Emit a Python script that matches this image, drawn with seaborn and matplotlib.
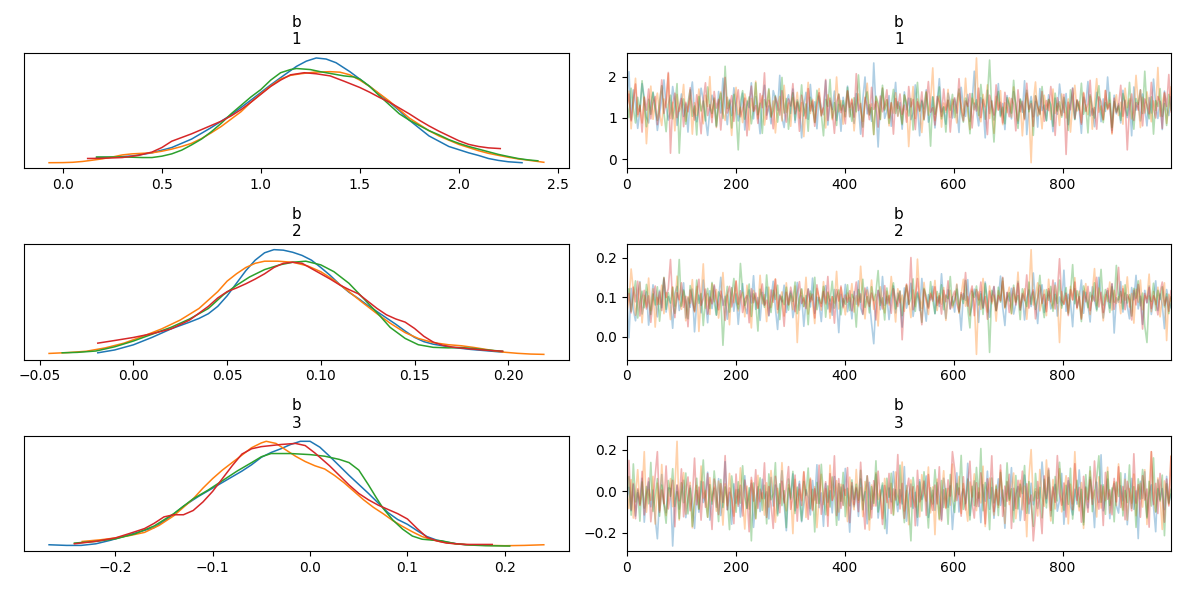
import numpy as np
import pandas as pd
import matplotlib
matplotlib.use("Agg")
import matplotlib.pyplot as plt
import seaborn as sns

# ---------------- data ----------------
var_name = "b"
coords = ["1", "2", "3"]
chains = [0, 1, 2, 3]
chain_colors = ["#1f77b4", "#ff7f0e", "#2ca02c", "#d62728"]

# KDE curves read from the left column (x = value, y = density, arbitrary units)
kde_b1_x = [
    [0.17, 0.25, 0.35, 0.45, 0.55, 0.65, 0.75, 0.85, 0.95, 1.05, 1.12, 1.18, 1.23, 1.28, 1.33, 1.38, 1.45, 1.5, 1.55, 1.6, 1.65, 1.7, 1.75, 1.8, 1.85, 1.9, 1.95, 2.0, 2.05, 2.1, 2.15, 2.2, 2.25, 2.32],
    [-0.07, 0.0, 0.05, 0.1, 0.15, 0.2, 0.25, 0.3, 0.35, 0.4, 0.45, 0.5, 0.55, 0.6, 0.65, 0.7, 0.75, 0.8, 0.85, 0.9, 0.95, 1.0, 1.05, 1.1, 1.15, 1.2, 1.27, 1.35, 1.4, 1.45, 1.5, 1.55, 1.6, 1.65, 1.7, 1.75, 1.8, 1.85, 1.9, 1.95, 2.0, 2.05, 2.1, 2.15, 2.2, 2.25, 2.3, 2.35, 2.43],
    [0.17, 0.25, 0.3, 0.35, 0.4, 0.45, 0.5, 0.55, 0.6, 0.65, 0.7, 0.75, 0.8, 0.85, 0.9, 0.95, 1.0, 1.05, 1.1, 1.15, 1.18, 1.25, 1.3, 1.36, 1.42, 1.47, 1.5, 1.55, 1.6, 1.65, 1.7, 1.75, 1.8, 1.85, 1.9, 1.95, 2.0, 2.05, 2.1, 2.15, 2.2, 2.25, 2.3, 2.35, 2.4],
    [0.125, 0.2, 0.3, 0.38, 0.45, 0.5, 0.55, 0.6, 0.65, 0.7, 0.75, 0.8, 0.85, 0.9, 0.95, 1.0, 1.05, 1.1, 1.15, 1.22, 1.28, 1.35, 1.42, 1.5, 1.55, 1.6, 1.65, 1.7, 1.75, 1.8, 1.85, 1.9, 1.95, 2.0, 2.05, 2.1, 2.15, 2.21],
]
kde_b1_y = [
    [0.055, 0.058, 0.07, 0.10, 0.15, 0.23, 0.34, 0.46, 0.60, 0.745, 0.84, 0.92, 0.97, 1.0, 0.99, 0.955, 0.87, 0.80, 0.73, 0.655, 0.58, 0.50, 0.41, 0.335, 0.26, 0.21, 0.16, 0.13, 0.10, 0.075, 0.046, 0.028, 0.015, 0.006],
    [0.006, 0.007, 0.01, 0.018, 0.03, 0.043, 0.06, 0.08, 0.09, 0.095, 0.10, 0.115, 0.135, 0.16, 0.19, 0.235, 0.29, 0.35, 0.42, 0.49, 0.58, 0.66, 0.735, 0.80, 0.835, 0.85, 0.865, 0.87, 0.865, 0.84, 0.79, 0.73, 0.66, 0.59, 0.51, 0.43, 0.37, 0.31, 0.26, 0.22, 0.18, 0.15, 0.12, 0.095, 0.076, 0.058, 0.042, 0.03, 0.01],
    [0.06, 0.06, 0.06, 0.058, 0.055, 0.055, 0.068, 0.09, 0.125, 0.175, 0.23, 0.30, 0.38, 0.47, 0.55, 0.63, 0.70, 0.79, 0.86, 0.89, 0.90, 0.89, 0.87, 0.85, 0.83, 0.82, 0.80, 0.73, 0.64, 0.555, 0.47, 0.41, 0.36, 0.31, 0.27, 0.225, 0.19, 0.16, 0.135, 0.11, 0.085, 0.065, 0.046, 0.033, 0.024],
    [0.046, 0.048, 0.055, 0.075, 0.107, 0.15, 0.21, 0.245, 0.28, 0.32, 0.36, 0.40, 0.45, 0.51, 0.58, 0.655, 0.73, 0.79, 0.84, 0.86, 0.85, 0.83, 0.78, 0.72, 0.675, 0.625, 0.58, 0.525, 0.47, 0.41, 0.355, 0.305, 0.26, 0.215, 0.18, 0.16, 0.147, 0.14],
]
kde_b2_x = [
    [-0.019, -0.01, 0.0, 0.01, 0.02, 0.03, 0.035, 0.04, 0.045, 0.05, 0.055, 0.06, 0.065, 0.07, 0.075, 0.08, 0.085, 0.09, 0.095, 0.1, 0.105, 0.11, 0.115, 0.12, 0.125, 0.13, 0.135, 0.14, 0.145, 0.15, 0.155, 0.16, 0.17, 0.18, 0.19, 0.197],
    [-0.045, -0.035, -0.025, -0.015, -0.005, 0.005, 0.015, 0.025, 0.035, 0.045, 0.05, 0.055, 0.06, 0.065, 0.07, 0.077, 0.085, 0.093, 0.1, 0.107, 0.115, 0.122, 0.13, 0.137, 0.145, 0.152, 0.16, 0.168, 0.175, 0.182, 0.19, 0.197, 0.205, 0.212, 0.219],
    [-0.038, -0.03, -0.02, -0.01, 0.0, 0.01, 0.02, 0.03, 0.04, 0.048, 0.055, 0.062, 0.07, 0.078, 0.085, 0.092, 0.1, 0.107, 0.115, 0.122, 0.13, 0.137, 0.145, 0.152, 0.16, 0.168, 0.175, 0.182, 0.19, 0.197],
    [-0.019, -0.01, 0.0, 0.01, 0.02, 0.03, 0.04, 0.045, 0.05, 0.055, 0.06, 0.065, 0.07, 0.075, 0.08, 0.085, 0.09, 0.095, 0.1, 0.105, 0.11, 0.115, 0.12, 0.125, 0.13, 0.135, 0.14, 0.145, 0.15, 0.155, 0.16, 0.165, 0.17, 0.18, 0.19, 0.197],
]
kde_b2_y = [
    [0.018, 0.045, 0.094, 0.165, 0.245, 0.31, 0.345, 0.39, 0.46, 0.56, 0.68, 0.80, 0.90, 0.97, 1.0, 0.995, 0.975, 0.945, 0.90, 0.83, 0.755, 0.67, 0.595, 0.535, 0.47, 0.41, 0.35, 0.29, 0.225, 0.165, 0.124, 0.10, 0.07, 0.05, 0.035, 0.024],
    [0.012, 0.02, 0.033, 0.065, 0.11, 0.175, 0.245, 0.33, 0.44, 0.60, 0.70, 0.77, 0.83, 0.87, 0.89, 0.89, 0.88, 0.845, 0.79, 0.71, 0.60, 0.50, 0.39, 0.30, 0.21, 0.155, 0.115, 0.095, 0.085, 0.068, 0.045, 0.025, 0.013, 0.006, 0.003],
    [0.018, 0.022, 0.035, 0.075, 0.13, 0.195, 0.26, 0.34, 0.44, 0.57, 0.66, 0.74, 0.81, 0.855, 0.88, 0.89, 0.855, 0.79, 0.68, 0.55, 0.40, 0.26, 0.155, 0.095, 0.07, 0.065, 0.068, 0.058, 0.043, 0.033],
    [0.11, 0.135, 0.164, 0.20, 0.245, 0.33, 0.46, 0.54, 0.60, 0.635, 0.675, 0.72, 0.77, 0.83, 0.87, 0.88, 0.87, 0.82, 0.77, 0.72, 0.665, 0.62, 0.58, 0.51, 0.44, 0.38, 0.34, 0.31, 0.25, 0.175, 0.12, 0.09, 0.073, 0.055, 0.04, 0.033],
]
kde_b3_x = [
    [-0.268, -0.25, -0.235, -0.22, -0.205, -0.19, -0.175, -0.16, -0.145, -0.13, -0.115, -0.1, -0.085, -0.07, -0.06, -0.05, -0.04, -0.03, -0.02, -0.01, 0.0, 0.01, 0.02, 0.03, 0.04, 0.05, 0.06, 0.07, 0.08, 0.09, 0.1, 0.11, 0.12, 0.13, 0.14, 0.15, 0.16, 0.187],
    [-0.234, -0.215, -0.2, -0.185, -0.17, -0.155, -0.14, -0.13, -0.12, -0.11, -0.1, -0.09, -0.08, -0.07, -0.06, -0.05, -0.045, -0.035, -0.025, -0.015, -0.005, 0.005, 0.015, 0.025, 0.035, 0.045, 0.055, 0.065, 0.075, 0.085, 0.095, 0.105, 0.115, 0.125, 0.135, 0.15, 0.17, 0.2, 0.22, 0.24],
    [-0.242, -0.22, -0.2, -0.18, -0.16, -0.14, -0.12, -0.105, -0.09, -0.075, -0.06, -0.05, -0.04, -0.02, 0.0, 0.015, 0.03, 0.04, 0.05, 0.06, 0.068, 0.075, 0.085, 0.095, 0.105, 0.115, 0.125, 0.135, 0.15, 0.165, 0.18, 0.205],
    [-0.242, -0.22, -0.2, -0.185, -0.17, -0.16, -0.15, -0.14, -0.13, -0.12, -0.11, -0.1, -0.09, -0.08, -0.07, -0.06, -0.05, -0.04, -0.03, -0.015, -0.005, 0.005, 0.02, 0.03, 0.04, 0.05, 0.06, 0.07, 0.08, 0.09, 0.1, 0.11, 0.12, 0.13, 0.14, 0.16, 0.187],
]
kde_b3_y = [
    [0.018, 0.012, 0.012, 0.027, 0.06, 0.10, 0.14, 0.18, 0.27, 0.38, 0.47, 0.55, 0.63, 0.71, 0.77, 0.84, 0.885, 0.92, 0.96, 0.99, 0.99, 0.935, 0.85, 0.76, 0.67, 0.585, 0.50, 0.41, 0.32, 0.255, 0.21, 0.15, 0.095, 0.062, 0.043, 0.028, 0.018, 0.018],
    [0.049, 0.065, 0.082, 0.105, 0.134, 0.20, 0.29, 0.37, 0.45, 0.55, 0.64, 0.72, 0.79, 0.86, 0.93, 0.975, 0.99, 0.97, 0.91, 0.85, 0.80, 0.76, 0.73, 0.67, 0.60, 0.52, 0.44, 0.37, 0.31, 0.245, 0.19, 0.14, 0.095, 0.065, 0.045, 0.025, 0.015, 0.009, 0.012, 0.018],
    [0.034, 0.05, 0.073, 0.12, 0.195, 0.31, 0.45, 0.53, 0.62, 0.71, 0.79, 0.845, 0.875, 0.875, 0.865, 0.85, 0.82, 0.79, 0.72, 0.58, 0.46, 0.36, 0.25, 0.165, 0.10, 0.07, 0.062, 0.055, 0.027, 0.015, 0.009, 0.006],
    [0.027, 0.05, 0.082, 0.125, 0.17, 0.22, 0.28, 0.30, 0.30, 0.34, 0.42, 0.52, 0.64, 0.76, 0.87, 0.92, 0.94, 0.95, 0.96, 0.97, 0.95, 0.88, 0.76, 0.67, 0.58, 0.50, 0.44, 0.39, 0.35, 0.31, 0.26, 0.17, 0.088, 0.055, 0.034, 0.021, 0.021],
]

# Trace values read (coarsely, ~250 per chain) from the right column.
# b1 in hundredths, b2 and b3 in thousandths.
trace_units = [100.0, 1000.0, 1000.0]

b1_chain0 = [140, 212, 96, 168, 131, 75, 118, 183, 150, 102, 88, 137, 161, 124, 70, 109, 147, 192, 128, 95, 115, 176, 139, 82, 121,
             158, 104, 134, 66, 149, 187, 113, 91, 126, 172, 143, 99, 58, 120, 155, 136, 79, 164, 112, 196, 127, 84, 145, 106, 173,
             132, 93, 118, 160, 71, 141, 125, 185, 98, 152, 114, 62, 138, 179, 107, 129, 86, 166, 148, 119, 203, 101, 77, 135, 156,
             111, 170, 89, 144, 123, 52, 130, 162, 97, 181, 117, 139, 74, 153, 126, 108, 190, 83, 142, 121, 165, 94, 133, 68, 150,
             116, 177, 103, 136, 87, 159, 128, 61, 145, 199, 110, 132, 92, 233, 124, 30, 140, 171, 99, 118, 154, 80, 127, 186, 105,
             137, 73, 163, 120, 148, 96, 112, 180, 131, 57, 143, 122, 168, 90, 109, 151, 76, 134, 195, 115, 126, 85, 160, 139, 100,
             146, 119, 65, 174, 128, 104, 157, 92, 138, 213, 117, 81, 149, 130, 52, 167, 111, 142, 95, 125, 183, 106, 135, 72, 154,
             121, 98, 164, 133, 87, 145, 114, 190, 60, 127, 152, 103, 140, 78, 171, 118, 131, 94, 156, 124, 67, 148, 109, 182, 136,
             113, 159, 84, 128, 173, 97, 141, 120, 63, 150, 132, 188, 105, 123, 79, 162, 138, 91, 146, 116, 199, 129, 70, 155, 110,
             134, 88, 167, 125, 101, 143, 57, 175, 119, 137, 93, 158, 126, 81, 149, 112, 194, 130, 99, 140, 72, 165, 122, 106, 151]
b1_chain1 = [118, 165, 74, 140, 196, 103, 129, 88, 152, 38, 121, 177, 97, 134, 160, 110, 82, 146, 125, 207, 99, 138, 69, 157, 116,
             131, 181, 92, 124, 148, 61, 137, 106, 170, 119, 86, 155, 128, 200, 101, 143, 77, 133, 163, 112, 94, 150, 123, 58, 139,
             174, 108, 126, 89, 158, 135, 71, 147, 117, 189, 98, 130, 154, 83, 121, 168, 104, 141, 64, 127, 152, 93, 179, 114, 136,
             80, 149, 122, 162, 100, 137, 55, 128, 186, 111, 145, 90, 133, 171, 107, 124, 76, 156, 138, 96, 120, 199, 115, 142, 85,
             130, 166, 103, 147, 69, 125, 158, 118, 92, 140, 184, 109, 134, 60, 151, 127, 97, 173, 121, 144, 81, 136, 112, 161, 104,
             128, 87, 155, 139, 31, 120, 176, 99, 146, 116, 65, 132, 164, 107, 142, 221, 94, 125, 153, 78, 136, 114, 169, 101, 145,
             123, 88, 160, 131, 106, 196, 118, 72, 148, 134, 245, 110, 91, 157, 127, 180, 99, 140, 63, 152, 120, 166, 84, 137, 113,
             149, 102, 175, 126, 93, 141, 57, 132, 160, 116, -8, 138, 187, 105, 128, 74, 155, 121, 144, 96, 170, 111, 135, 82, 158,
             124, 100, 146, 66, 133, 179, 117, 140, 89, 162, 127, 108, 152, 73, 136, 195, 114, 129, 95, 167, 120, 143, 61, 131, 156,
             106, 138, 85, 172, 125, 147, 98, 119, 203, 134, 77, 150, 112, 163, 128, 91, 141, 118, 222, 104, 135, 160, 87, 130, 175]
b1_chain2 = [135, 101, 172, 124, 88, 150, 116, 190, 130, 79, 145, 109, 163, 122, 94, 140, 178, 113, 67, 132, 155, 98, 127, 183, 15,
             120, 146, 85, 137, 168, 104, 129, 59, 152, 117, 141, 93, 175, 126, 111, 148, 81, 134, 160, 99, 225, 123, 142, 76, 157,
             114, 23, 139, 166, 97, 131, 151, 86, 120, 185, 108, 136, 63, 144, 127, 171, 102, 118, 154, 90, 133, 198, 112, 147, 73,
             129, 161, 95, 140, 117, 180, 105, 134, 68, 150, 123, 89, 167, 138, 110, 57, 145, 128, 193, 100, 137, 82, 158, 119, 142,
             103, 174, 126, 92, 149, 115, 204, 132, 78, 141, 163, 107, 125, 60, 153, 136, 96, 179, 118, 144, 87, 130, 169, 111, 139,
             121, 84, 156, 133, 105, 147, 71, 128, 186, 116, 140, 95, 162, 124, 32, 151, 109, 135, 175, 98, 127, 66, 143, 119, 157,
             101, 138, 170, 113, 90, 148, 127, 62, 159, 120, 144, 106, 181, 131, 97, 152, 240, 118, 42, 137, 164, 103, 126, 86, 149,
             134, 112, 191, 122, 75, 146, 130, 99, 167, 115, 141, 58, 154, 128, 108, 176, 121, 93, 145, 133, 80, 160, 117, 139, 102,
             150, 125, 70, 168, 136, 96, 143, 119, 184, 109, 131, 64, 156, 127, 100, 148, 178, 114, 89, 137, 124, 162, 77, 140, 115,
             129, 94, 159, 138, 106, 186, 120, 73, 147, 133, 168, 111, 213, 124, 98, 151, 61, 142, 128, 171, 104, 135, 82, 157, 119]
b1_chain3 = [127, 158, 93, 140, 182, 108, 131, 66, 149, 119, 170, 98, 136, 152, 84, 123, 192, 111, 144, 210, 15, 133, 160, 101, 126,
             147, 79, 138, 115, 173, 129, 95, 156, 120, 62, 142, 185, 106, 132, 89, 164, 124, 145, 71, 137, 198, 112, 128, 154, 92,
             135, 168, 103, 121, 148, 57, 139, 177, 116, 130, 87, 159, 125, 209, 97, 143, 118, 74, 151, 134, 107, 166, 122, 90, 146,
             129, 183, 110, 137, 68, 155, 124, 99, 171, 117, 141, 80, 133, 161, 105, 128, 193, 94, 148, 120, 63, 139, 157, 113, 131,
             86, 165, 126, 144, 102, 207, 118, 135, 55, 150, 129, 96, 174, 121, 140, 78, 153, 115, 132, 168, 100, 137, 61, 147, 123,
             158, 109, 131, 90, 176, 127, 145, 72, 139, 118, 163, 97, 134, 188, 114, 125, 83, 152, 138, 104, 170, 119, 143, 66, 130,
             149, 112, 195, 124, 93, 141, 128, 159, 76, 136, 117, 172, 101, 145, 122, 60, 155, 131, 107, 180, 119, 138, 88, 162, 126,
             103, 147, 133, 69, 168, 115, 140, 96, 184, 121, 135, 80, 153, 127, 110, 164, 92, 142, 118, 176, 131, 58, 149, 124, 106,
             157, 12, 138, 120, 171, 99, 144, 129, 85, 160, 116, 134, 191, 107, 125, 73, 151, 140, 97, 166, 122, 135, 64, 148, 113,
             130, 179, 104, 143, 23, 126, 158, 94, 137, 119, 168, 81, 146, 132, 110, 186, 123, 100, 152, 139, 75, 162, 128, 205, 115]

b2_chain0 = [95, -3, 122, 68, 40, 104, 139, 57, 86, 113, 29, 78, 131, 92, 50, 117, 73, 146, 62, 101, 84, 21, 110, 127, 66,
             89, 136, 47, 98, 74, 120, 12, 83, 105, 60, 143, 91, 35, 116, 71, 128, 55, 96, 150, 79, 102, 44, 87, 124, 64,
             108, 31, 93, 134, 76, 58, 118, 85, 154, 69, 99, 41, 112, 81, 125, 52, 97, 140, 72, 18, 106, 88, 130, 61, 94,
             115, 48, 80, 137, 67, 103, 26, 90, 121, 75, 148, 59, 100, 84, 38, 111, 129, 70, 95, 54, 119, 86, 10, 107, 77,
             132, 63, 98, 45, 114, 82, 141, 73, 56, 104, 125, 91, 34, -18, 88, 117, 68, 152, 79, 102, 43, 95, 128, 60, 110,
             85, 24, 123, 72, 97, 135, 51, 89, 113, 66, 147, 81, 39, 106, 93, 127, 58, 100, 76, 159, 87, 46, 118, 70, 101,
             62, 131, 84, 16, 109, 92, 144, 55, 78, 120, 99, 36, 114, 71, 138, 86, 49, 103, 126, 65, 96, 153, 74, 28, 111,
             90, 122, 57, 83, 140, 68, 105, 42, 97, 118, 76, 161, 88, 33, 109, 131, 61, 94, 115, 70, 85, 136, 52, 100, 79,
             168, 64, 107, 88, 25, 121, 74, 96, 143, 59, 112, 81, 37, 126, 92, 69, 150, 101, 47, 84, 116, 72, 133, 9, 98,
             87, 139, 62, 110, 77, 45, 124, 93, 155, 70, 102, 31, 117, 85, 128, 56, 95, 141, 66, 108, 80, 20, 119, 89, 73]
b2_chain1 = [63, 92, 171, 118, 54, 86, 137, 35, 104, 75, 148, 66, 121, 24, 99, 82, 130, 58, 111, 90, 43, 126, 77, 153, 95,
             69, 115, 40, 101, 84, 144, 62, 127, 13, 97, 184, 72, 108, 56, 134, 88, 119, 47, 93, 162, 79, 105, 30, 123, 86,
             141, 65, 98, 112, 50, 130, 87, 22, 117, 94, 71, 155, 83, 106, 38, 125, 74, 100, 146, 60, 91, 113, 52, 136, 80,
             103, 68, 128, -15, 96, 119, 76, 150, 57, 109, 88, 33, 122, 98, 67, 139, 81, 114, 46, 101, 85, 165, 70, 124, 94,
             55, 110, 89, 134, 62, 103, 76, 178, 99, 45, 118, 84, 143, 69, 107, 27, 126, 91, 60, 115, 80, 152, 97, 37, 121,
             86, 105, 64, 131, 93, 48, 118, 76, 196, 100, 71, 137, 87, 56, 112, 95, 142, 66, 109, 82, 124, 41, 98, 117, 73,
             90, 133, 59, 106, 145, 77, 101, 52, 120, 88, -45, 113, 69, 147, 94, 62, 128, 83, 105, 39, 116, 92, 140, 71, 99,
             125, 57, 108, 86, 163, 74, 97, 121, 44, 111, 220, 80, 102, 136, 65, 91, 118, 53, 145, 88, 72, 130, 96, -15, 114,
             82, 104, 61, 127, 93, 149, 70, 115, 47, 99, 134, 85, 56, 110, 172, 78, 123, 95, 40, 106, 89, 138, 67, 117, 84,
             101, 58, 128, 92, 151, 75, 109, 34, 120, 87, 143, 68, 104, 96, 158, 63, 114, 81, 125, 50, 98, 136, -10, 107, 90]
b2_chain2 = [98, 121, 64, 103, 141, 47, 88, 115, 73, 132, 92, 56, 108, 80, 126, 39, 97, 150, 69, 111, 85, 124, 59, 102, 195,
             77, 118, 90, 45, 129, 101, 66, 143, 84, 109, 28, 95, 122, 71, 137, 88, 54, 113, 100, -22, 83, 127, 62, 105, 147,
             91, 70, 185, 114, 79, 96, 133, 51, 108, 87, 14, 120, 99, 74, 156, 86, 61, 117, 94, 130, 43, 102, 81, 125, 67,
             110, 89, 138, 58, 97, 121, 76, 104, 30, 115, 93, 150, 68, 99, 84, 127, 49, 111, 90, 140, 72, 103, 118, 55, 96,
             82, 131, 66, 107, 95, 24, 119, 87, 145, 74, 101, 60, 126, 91, 112, 167, 79, 98, 42, 123, 85, 109, 136, 70, 94,
             116, 53, 100, 129, 81, 97, 146, 64, 110, 89, 36, 122, 103, 75, 139, 92, 58, 114, 85, 131, 68, 105, 96, 152, 78,
             93, 120, 62, 106, 84, 142, 71, 22, 115, 99, 128, 80, 108, 56, 134, 90, -40, 117, 101, 66, 125, 87, 148, 74, 97,
             111, 59, 130, 88, 104, 43, 121, 95, 76, 138, 82, 113, 69, 100, 155, 86, 48, 119, 92, 127, 64, 107, 84, 143, 72,
             98, 124, 57, 109, 182, 83, 116, 94, 38, 128, 101, 73, 112, 90, 136, 65, 105, 170, 80, 119, 99, 61, 126, 87, 180,
             93, 114, 70, 131, 85, 106, 52, 122, 97, 141, 78, 110, 27, -15, 103, 89, 135, 66, 117, 94, 126, 75, 108, 58, 100]
b2_chain3 = [77, 109, 60, 125, 88, 140, 52, 97, 117, 70, 103, 36, 94, 128, 81, 113, 66, 149, 99, 122, 195, 85, 48, 111, 93,
             136, 74, 102, 25, 118, 87, 64, 107, 145, 79, 96, 120, 57, 100, 83, 131, 94, 68, 115, 89, 41, 106, 127, 75, 99,
             140, 82, 116, 61, 95, 104, 35, 121, 86, 110, 72, 101, 133, 79, 92, 54, 118, 87, 145, 69, 103, 90, 26, 112, 81,
             125, 96, 63, 108, 139, 84, 98, 71, 120, 88, 107, 47, 131, 93, 76, 114, 85, 152, 62, 101, 34, 119, 90, 128, 73,
             105, 87, 116, 65, 99, 138, 80, 108, 57, 123, 94, 76, 110, 88, 42, 117, 96, 70, 129, 83, 104, 59, 121, 92, 76,
             114, -8, 97, 133, 82, 200, 68, 101, 147, 86, 30, 119, 94, 72, 108, 90, 126, 79, 103, 57, 117, 88, 141, 70, 99,
             115, 84, 63, 111, 94, 162, 77, 106, 128, 53, 119, 93, 138, 73, 101, 44, 115, 88, 127, 66, 104, 90, 150, 75, 112,
             61, 98, 124, 80, 135, 67, 109, 91, 156, 72, 102, 118, 45, 96, 130, 84, 107, 63, 121, 88, 143, 70, 113, 197, 92,
             82, 110, 53, 119, 93, 138, 73, 101, 44, 115, 88, 127, 66, 104, 90, 150, 75, 112, 61, 98, 122, 86, 134, 69, 107,
             175, 85, 121, 68, 106, 93, 42, 117, 80, 132, 97, 19, 109, 86, 124, 71, 103, 90, 55, 112, 138, 79, 100, 64, 116]

b3_chain0 = [-42, 18, -95, 31, -120, -8, -61, 62, -150, -25, 44, -76, 5, -131, -230, -33, 80, -58, -104, 15, 12, -265, -48, 27, -87,
             -14, 52, -128, -39, 26, -66, -180, 3, -102, 47, -55, -20, 91, -140, -31, 12, -78, 60, -118, -45, 142, -90, -6, -160, 35,
             -58, 8, -125, -27, 74, -83, -12, 38, -175, -50, 21, -99, 57, -36, -4, -134, 66, -72, 29, -110, -16, 98, -60, -191, 14,
             -40, 83, -95, -22, 47, -148, -65, 6, -30, -115, 51, -43, 127, -80, -9, -170, 36, -54, 2, -105, 70, -28, -140, 19, -68,
             109, -37, -198, 24, -76, 11, -122, 58, -46, -3, -158, 42, -88, -18, 81, -130, -35, 28, -69, -205, 15, -52, 94, -24, -99,
             7, -62, 118, -145, -20, 34, -83, -6, -167, 55, -41, -11, 73, -127, -58, 4, -93, 41, -31, -136, 62, -15, -78, 25, -185,
             -44, 88, -101, -23, 10, -60, 134, -118, -33, 49, -74, -7, -152, 31, -49, 96, -88, 17, -131, -26, 59, -69, 5, -179, 44,
             -38, 113, -92, -14, 22, -142, -55, 77, -21, -108, 38, -66, -3, -84, -29, 140, 14, -57, 66, -121, -3, 32, -97, -44, 85,
             -160, -18, 50, -72, -115, 9, -63, 102, -37, -150, 20, -81, 67, -12, -176, 43, -54, 175, -95, -28, 58, -133, -8, 36, -70,
             -106, 25, -47, 84, -162, -19, 61, -88, 1, -229, 47, -35, 93, -124, -10, 30, -73, -196, 54, -41, 12, -89, 71, -56, -15]
b3_chain1 = [12, -84, 55, -130, -21, 103, -66, -14, 190, -102, 8, -45, 71, -159, 38, -93, 128, -52, -118, -27, 60, -75, 16, 240, -140,
             -4, 89, -111, -36, 42, -177, -58, 27, -85, 121, -33, 3, -126, 65, -48, 19, -97, 48, -16, -164, 35, -71, 85, -29, -121,
             6, -63, 112, -40, -183, 24, -87, 52, -12, -135, 76, -51, -9, -116, 40, -77, 99, -22, -150, 13, -60, 137, -38, -95, 30,
             -14, -205, 57, -81, 9, -46, 94, -127, -2, 63, -89, 21, -176, -31, 81, -64, 11, -118, 125, -43, -19, 50, -101, 33, -70,
             8, -147, 67, -36, -90, 104, -55, 17, -123, 46, -16, -188, 29, -72, 88, -41, 5, -133, 61, -25, -83, 37, -112, 92, -18,
             -57, 140, -96, 2, -162, 54, -34, -77, 25, -124, 79, -9, -48, 116, -105, 20, -210, 58, -139, -23, 98, -84, 13, -68, 130,
             -49, -3, 71, -108, 36, -61, -145, 44, -28, 83, -94, 15, -57, 120, -171, -8, 62, -40, -116, 30, -79, 101, -22, -156, 47,
             -65, 6, 87, -133, -39, 52, -90, 24, -220, 68, 200, -47, 11, -120, 104, -30, -73, 150, -15, -144, 56, -86, 26, 108, -100,
             -11, 74, -158, 33, -62, 190, -27, -95, 41, -180, 15, -53, 97, -36, 4, -125, 69, -82, 22, -46, 115, -106, -8, 45, -70,
             131, -33, -92, 57, -140, 12, -58, 82, -119, -4, 38, -77, 103, -161, 20, 190, -44, -100, 63, -28, -185, 49, 0, -65, 170]
b3_chain2 = [-38, 70, -116, 131, -52, 5, -145, 44, -82, 22, -61, 138, -98, -17, 60, -121, 29, -67, -155, 51, -25, 108, -74, -3, -133,
             40, -56, 87, -110, 14, -170, -35, 62, -88, 9, 150, -47, -126, 31, -63, 97, -19, -147, 56, -79, 20, -39, -186, 73, -11,
             -102, 45, -58, 122, -28, -84, 16, -240, 39, -131, -6, 64, -93, 28, -158, 83, -42, -13, 137, -119, 35, -70, 2, -176, 58,
             -33, 95, -108, 19, -52, -143, 47, -21, 111, -85, 8, -197, 42, -60, 129, -31, -114, 25, -77, 68, -10, -165, 36, -49, 90,
             -123, 13, -71, 54, -40, 33, -44, 100, -90, -8, 73, -138, 21, -59, 146, -101, -24, 39, -181, 62, -30, 86, -117, 7, -67,
             125, -48, -152, 27, -83, -240, 66, -14, -126, 44, -96, 93, -37, -178, 16, -62, 103, -23, -134, 51, -79, 12, -160, 80, -41,
             -103, 37, -17, 172, -88, -52, 58, -139, 23, -70, 114, -34, 205, -95, 41, -5, -186, 63, -57, 24, -118, 90, -28, -73, 136,
             -45, 11, -149, 75, -86, 33, -12, 123, -107, 46, -60, -170, 85, -36, 18, -129, 57, -81, 101, -23, -156, 70, -47, 139, -9,
             -92, 28, -64, 110, -135, -18, 52, -76, 8, -163, 79, -41, 118, -99, -2, 65, 170, -54, 30, -112, 94, -69, 15, -148, 43,
             -26, 88, -120, 3, -55, 126, -83, 21, -175, 59, -38, 104, -15, -130, 47, -72, 160, -101, 12, -48, 77, -215, 35, -60, 8]
b3_chain3 = [-55, 148, -91, 37, -133, 12, -70, 95, -115, -20, 63, -148, -38, 78, 190, -102, 5, -61, 121, -86, -14, 52, -172, 30, -47,
             107, -124, -2, 68, -95, -33, 159, -66, 19, -140, 44, -78, 84, -28, -185, 58, -10, -113, 36, -55, 171, -90, 15, -41, -157,
             82, -73, 28, -120, 53, -22, -196, 66, -48, 103, -83, 9, -36, 136, -127, 22, -63, -180, 71, -14, -104, 48, -57, 16, 118,
             -88, -29, 77, -145, 34, -69, 92, -18, -136, 57, -94, 11, -59, 125, -112, -32, 45, -170, 84, -46, 170, -118, 60, -83, 30,
             -21, 113, -152, 41, -66, 18, -99, 139, -40, -183, 74, -10, -129, 50, -72, 96, -34, -161, 27, -55, 85, -108, 10, -43, 176,
             -86, 37, -131, -3, 62, -76, 21, -167, 100, -52, -15, 48, -117, 80, -37, -93, 29, -62, 117, -144, 6, -80, 54, -24, 190,
             107, -46, 15, -121, 69, -91, 33, 144, -58, -130, 40, -74, 88, -17, -158, 59, -35, 170, -99, 8, -67, 126, -122, 24, -49,
             81, -180, 13, -84, 52, -28, 96, -141, 35, -62, -19, -240, -110, 46, -77, -205, 73, -36, 110, -93, 20, -54, 171, -11, -68,
             39, -125, 64, -7, -90, 132, -45, 18, -150, 71, -31, -102, 55, -64, 145, -20, -87, 29, -166, 90, -39, 6, -114, 61, -52,
             117, -79, 22, -138, 47, -11, -95, 180, -58, 31, -126, 74, -43, 10, -174, 190, -65, 37, -108, 85, -27, -150, 58, -72, 165]

n_draws = 1000
trace_ticks = [0, 200, 400, 600, 800]

kde_x = [kde_b1_x, kde_b2_x, kde_b3_x]
kde_y = [kde_b1_y, kde_b2_y, kde_b3_y]
traces = [
    [b1_chain0, b1_chain1, b1_chain2, b1_chain3],
    [b2_chain0, b2_chain1, b2_chain2, b2_chain3],
    [b3_chain0, b3_chain1, b3_chain2, b3_chain3],
]
kde_ticks = [
    [0.0, 0.5, 1.0, 1.5, 2.0, 2.5],
    [-0.05, 0.0, 0.05, 0.10, 0.15, 0.20],
    [-0.2, -0.1, 0.0, 0.1, 0.2],
]
kde_ticklabels = [
    ["0.0", "0.5", "1.0", "1.5", "2.0", "2.5"],
    ["\u22120.05", "0.00", "0.05", "0.10", "0.15", "0.20"],
    ["\u22120.2", "\u22120.1", "0.0", "0.1", "0.2"],
]

# ---------------- plot ----------------
plt.rcParams["font.family"] = ["DejaVu Sans"]
fig, axes = plt.subplots(3, 2, figsize=(11.86, 5.9), dpi=100)

for r in range(3):
    ax_k = axes[r, 0]
    ax_t = axes[r, 1]
    for c in chains:
        df_k = pd.DataFrame({"value": kde_x[r][c], "density": kde_y[r][c]})
        sns.lineplot(data=df_k, x="value", y="density", ax=ax_k, color=chain_colors[c],
                     linewidth=1.1, estimator=None, sort=False)
    rows = []
    for c in chains:
        vals = np.asarray(traces[r][c], dtype=float) / trace_units[r]
        draws = np.linspace(0, n_draws - 1, len(vals))
        rows.append(pd.DataFrame({"draw": draws, "value": vals, "chain": c}))
    df_t = pd.concat(rows, ignore_index=True)
    sns.lineplot(data=df_t, x="draw", y="value", hue="chain", palette=chain_colors,
                 ax=ax_t, alpha=0.35, linewidth=1.2, estimator=None, legend=False)

    title = f"{var_name}\n{coords[r]}"
    for ax in (ax_k, ax_t):
        ax.set_title(title, fontsize=11)
        ax.set_xlabel("")
        ax.set_ylabel("")
        ax.tick_params(labelsize=10)
    ax_k.set_yticks([])
    ax_k.set_xticks(kde_ticks[r])
    ax_k.set_xticklabels(kde_ticklabels[r])
    ax_t.set_xlim(0, n_draws - 1)
    ax_t.set_xticks(trace_ticks)

fig.tight_layout()
fig.savefig("out.png", dpi=100)
